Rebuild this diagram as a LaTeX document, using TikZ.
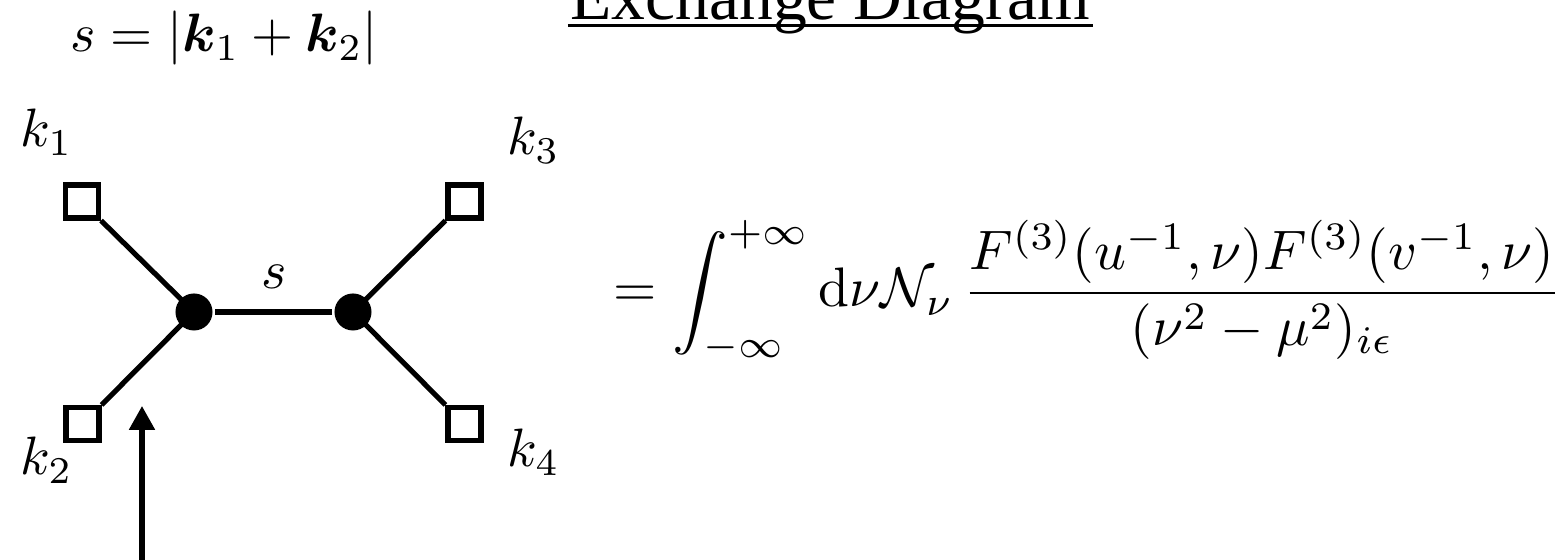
\RequirePackage{fix-cm}
\documentclass[tikz,border=0pt]{standalone}
\usepackage{amsmath,amssymb,bm}
\usepackage{fontspec}
\newfontfamily\titlefont{Liberation Serif}
\usetikzlibrary{arrows.meta}
\begin{document}
\begin{tikzpicture}[x=0.185pt, y=-0.185pt, line width=0.95pt,
  vtx/.style={circle, fill=black, inner sep=0pt, minimum size=6.85pt},
  ext/.style={draw, rectangle, line width=0.95pt, fill=white, inner sep=0pt, minimum size=6.1pt},
  lbl/.style={anchor=base west, inner sep=0pt}]
\useasboundingbox (0,0) rectangle (1564,560);
\clip (0,0) rectangle (1564,560);
\node[lbl, font=\titlefont\fontsize{12.5}{15}\selectfont] (title) at (568,20) {Exchange Diagram};
\draw[line width=0.55pt] ([yshift=-0.95pt]title.base west) -- ([yshift=-0.95pt]title.base east);
\node[lbl] (sdef) at (68,52) {$s=|\bm{k}_1+\bm{k}_2|$};
% external legs and vertices
\node[ext] (e1) at (82,201.5) {};
\node[ext] (e2) at (82.5,424) {};
\node[ext] (e3) at (464.5,201.5) {};
\node[ext] (e4) at (464.5,424) {};
\node[vtx] (v1) at (194,312) {};
\node[vtx] (v2) at (353,312) {};
\draw (e1.south east) -- (v1.center) -- (e2.north east);
\draw (e3.south west) -- (v2.center) -- (e4.north west);
\draw (v1) -- (v2);
\node[lbl, anchor=base] (sx) at (274,289) {$s$};
\node[lbl] (k1) at (18,147) {$k_1$};
\node[lbl] (k2) at (18,475) {$k_2$};
\node[lbl] (k3) at (505,155) {$k_3$};
\node[lbl] (k4) at (505,467) {$k_4$};
% arrow from below
\coordinate (tail) at (142,570);
\coordinate (tip) at (142,406);
\draw[-{Triangle[width=4.6pt,length=4.4pt]}] (tail) -- (tip);
% the formula
\node[lbl, font=\fontsize{10.3}{12}\selectfont] (amp) at (611,307) {$\displaystyle =\int_{-\infty}^{+\infty}\mathrm{d}\nu\mathcal{N}_\nu\,\frac{F^{(3)}(u^{-1},\nu)F^{(3)}(v^{-1},\nu)}{(\nu^2-\mu^2)_{i\epsilon}}$};
\end{tikzpicture}
\end{document}
